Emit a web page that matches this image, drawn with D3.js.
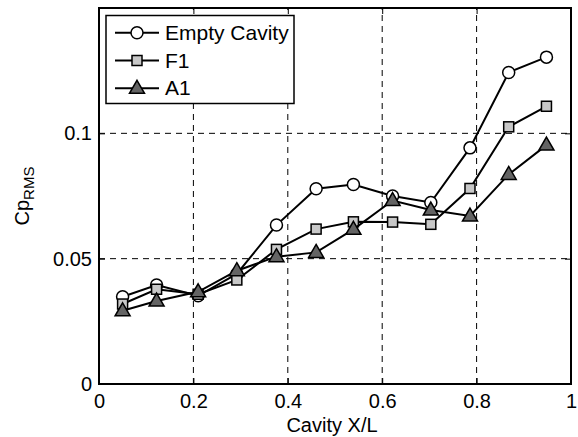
<!DOCTYPE html>
<html>
<head>
<meta charset="utf-8">
<script src="https://cdn.jsdelivr.net/npm/d3@7"></script>
<style>
	body { margin: 0; background: #fff; }
	svg { font-family: Arial, "Liberation Sans", sans-serif; }
</style>
</head>
<body>
<svg id="chart" width="578" height="437"></svg>
<script>
// cavity positions X/L
var xPos = [0.05, 0.122, 0.21, 0.292, 0.376, 0.46, 0.539, 0.622, 0.703, 0.786, 0.868, 0.948];

// Cp RMS values
var emptyCavity = [0.0348, 0.0395, 0.0352, 0.0439, 0.0634, 0.0779, 0.0796, 0.0750, 0.0724, 0.0942, 0.1243, 0.1304];
var f1 = [0.0319, 0.0378, 0.0358, 0.0415, 0.0537, 0.0618, 0.0647, 0.0646, 0.0637, 0.0780, 0.1026, 0.1108];
var a1 = [0.0292, 0.0331, 0.0368, 0.0452, 0.0508, 0.0525, 0.0617, 0.0732, 0.0694, 0.0670, 0.0836, 0.0953];

var seriesNames = ['Empty Cavity', 'F1', 'A1'];
var xTicks = [0, 0.2, 0.4, 0.6, 0.8, 1];
var yTicks = [0, 0.05, 0.1];

var series = [
	{name: seriesNames[0], values: emptyCavity, marker: 'circle', fill: '#ffffff'},
	{name: seriesNames[1], values: f1, marker: 'square', fill: '#c8c8c8'},
	{name: seriesNames[2], values: a1, marker: 'triangle', fill: '#646464'}
];

var margin = {left: 99, right: 7, top: 8, bottom: 53};
var W = 578, H = 437;

var svg = d3.select('#chart');

var x = d3.scaleLinear().domain([0, 1]).range([margin.left, W - margin.right]);
var y = d3.scaleLinear().domain([0, 0.15]).range([H - margin.bottom, margin.top]);

// grid
svg.append('g').selectAll('line')
	.data(xTicks.slice(1, -1))
	.join('line')
	.attr('x1', d => x(d)).attr('x2', d => x(d))
	.attr('y1', y(0)).attr('y2', y(0.15))
	.attr('stroke', '#000').attr('stroke-width', 1)
	.attr('stroke-dasharray', '6,5');

svg.append('g').selectAll('line')
	.data(yTicks.slice(1))
	.join('line')
	.attr('x1', x(0)).attr('x2', x(1))
	.attr('y1', d => y(d)).attr('y2', d => y(d))
	.attr('stroke', '#000').attr('stroke-width', 1)
	.attr('stroke-dasharray', '6,5');

// axes
var xAxis = d3.axisBottom(x).tickValues(xTicks).tickSize(-6).tickPadding(10)
	.tickFormat(d => d === 0 ? '0' : d3.format('.1f')(d).replace(/^1\.0$/, '1'));
var gx = svg.append('g').attr('transform', 'translate(0,' + y(0) + ')').call(xAxis);

var yAxis = d3.axisLeft(y).tickValues(yTicks).tickSize(-6).tickPadding(7)
	.tickFormat(d => d === 0 ? '0' : (d === 0.1 ? '0.1' : '0.05'));
var gy = svg.append('g').attr('transform', 'translate(' + x(0) + ',0)').call(yAxis);

var gxTop = svg.append('g').attr('transform', 'translate(0,' + y(0.15) + ')')
	.call(d3.axisTop(x).tickValues(xTicks).tickSize(-6).tickFormat(''));
var gyRight = svg.append('g').attr('transform', 'translate(' + x(1) + ',0)')
	.call(d3.axisRight(y).tickValues(yTicks).tickSize(-6).tickFormat(''));

[gx, gy, gxTop, gyRight].forEach(function(g) {
	g.select('.domain').remove();
	g.selectAll('line').attr('stroke', '#000').attr('stroke-width', 1);
	g.selectAll('text').attr('font-size', '20px').attr('fill', '#000')
		.attr('font-family', 'Arial, "Liberation Sans", sans-serif');
});

svg.append('rect')
	.attr('x', x(0)).attr('y', y(0.15))
	.attr('width', x(1) - x(0)).attr('height', y(0) - y(0.15))
	.attr('fill', 'none').attr('stroke', '#000').attr('stroke-width', 2);

// markers
function drawMarker(g, type, fill, cx, cy) {
	if (type === 'circle') {
		g.append('circle').attr('cx', cx).attr('cy', cy).attr('r', 6)
			.attr('fill', fill).attr('stroke', '#000').attr('stroke-width', 1.5);
	} else if (type === 'square') {
		g.append('rect').attr('x', cx - 5).attr('y', cy - 5).attr('width', 10).attr('height', 10)
			.attr('fill', fill).attr('stroke', '#000').attr('stroke-width', 1.5);
	} else {
		g.append('path')
			.attr('d', 'M' + cx + ',' + (cy - 8) + 'L' + (cx + 7.5) + ',' + (cy + 5) + 'L' + (cx - 7.5) + ',' + (cy + 5) + 'Z')
			.attr('fill', fill).attr('stroke', '#000').attr('stroke-width', 1.5)
			.attr('stroke-linejoin', 'miter');
	}
}

var line = d3.line().x(d => x(d[0])).y(d => y(d[1]));

series.forEach(function(s) {
	var g = svg.append('g');
	var pts = xPos.map((xv, i) => [xv, s.values[i]]);
	g.append('path').datum(pts).attr('d', line)
		.attr('fill', 'none').attr('stroke', '#000').attr('stroke-width', 2);
	pts.forEach(function(p) { drawMarker(g, s.marker, s.fill, x(p[0]), y(p[1])); });
});

// legend
var leg = svg.append('g');
leg.append('rect').attr('x', 106).attr('y', 15.5).attr('width', 188).attr('height', 88)
	.attr('fill', '#fff').attr('stroke', '#000').attr('stroke-width', 1.5);
series.forEach(function(s, i) {
	var ly = 32.7 + i * 27.8;
	leg.append('line').attr('x1', 115).attr('x2', 159).attr('y1', ly).attr('y2', ly)
		.attr('stroke', '#000').attr('stroke-width', 2);
	drawMarker(leg, s.marker, s.fill, 137, ly);
	leg.append('text').attr('x', 165).attr('y', ly + 7)
		.attr('font-size', '21px').attr('fill', '#000').text(s.name);
});

// axis labels
svg.append('text').attr('x', (x(0) + x(1)) / 2 - 3).attr('y', 432)
	.attr('text-anchor', 'middle').attr('font-size', '20px').text('Cavity X/L');

var yl = svg.append('text')
	.attr('transform', 'translate(29,' + ((y(0) + y(0.15)) / 2) + ') rotate(-90)')
	.attr('text-anchor', 'middle').attr('font-size', '20px');
yl.append('tspan').text('Cp');
yl.append('tspan').attr('font-size', '15px').attr('dy', 5).text('RMS');
</script>
</body>
</html>
